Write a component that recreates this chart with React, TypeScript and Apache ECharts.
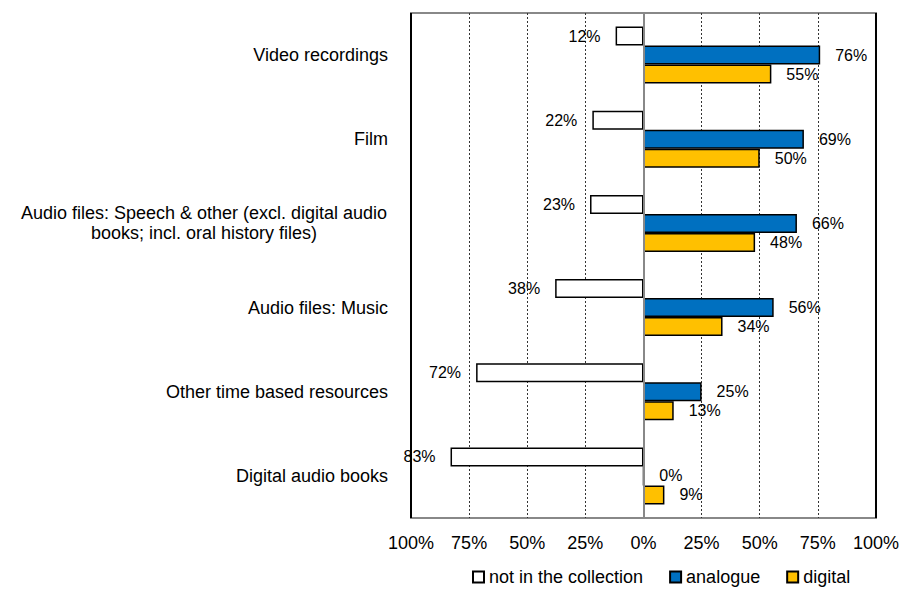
import React, { useEffect, useRef } from "react";
import * as echarts from "echarts";

const categories = [
  "Video recordings",
  "Film",
  "Audio files: Speech & other (excl. digital audio\nbooks; incl. oral history files)",
  "Audio files: Music",
  "Other time based resources",
  "Digital audio books",
];
const notInCollection = [12, 22, 23, 38, 72, 83];
const analogue = [76, 69, 66, 56, 25, 0];
const digital = [55, 50, 48, 34, 13, 9];
const seriesNames = ["not in the collection", "analogue", "digital"];
const xTicks = [-100, -75, -50, -25, 0, 25, 50, 75, 100];

export default function App() {
  const ref = useRef<HTMLDivElement>(null);
  useEffect(() => {
    document.body.style.margin = "0";
    if (!ref.current) return;
    const chart = echarts.init(ref.current, null, { renderer: "svg" });
    const font = "Liberation Sans, Arial, sans-serif";
    const barBorder = { borderColor: "#000", borderWidth: 1.5 };
    const labelBase = {
      show: true,
      fontFamily: font,
      fontSize: 16,
      color: "#000",
      distance: 15,
      formatter: (p: any) => Math.abs(p.value) + "%",
    };
    chart.setOption({
      animation: false,
      textStyle: { fontFamily: font },
      grid: { left: 411, right: 25, top: 13, bottom: 72, show: true, borderColor: "#888", borderWidth: 2 },
      legend: {
        left: 467,
        top: 563,
        itemWidth: 11,
        itemHeight: 11,
        itemGap: 26,
        icon: "rect",
        textStyle: { fontFamily: font, fontSize: 18, color: "#000" },
        data: seriesNames,
      },
      xAxis: {
        type: "value",
        min: xTicks[0],
        max: xTicks[xTicks.length - 1],
        interval: 25,
        axisLine: { show: false },
        axisTick: { show: false },
        axisLabel: {
          fontFamily: font,
          fontSize: 18,
          color: "#000",
          margin: 16,
          formatter: (v: number) => Math.abs(v) + "%",
        },
        splitLine: { show: true, lineStyle: { color: "#333", type: [2, 2], width: 1 } },
      },
      yAxis: {
        type: "category",
        data: categories,
        inverse: true,
        axisLine: { show: false },
        axisTick: { show: false },
        axisLabel: {
          fontFamily: font,
          fontSize: 18,
          color: "#000",
          margin: 23,
          lineHeight: 20,
          formatter: (v: string) => {
            if (v.indexOf("\n") >= 0) {
              return v
                .split("\n")
                .map((s) => "{c|" + s + "}")
                .join("\n");
            }
            return v;
          },
          rich: {
            c: { width: 368, align: "center", fontSize: 18, fontFamily: font, color: "#000", lineHeight: 20 },
          },
        },
      },
      series: [
        {
          name: seriesNames[0],
          type: "bar",
          data: notInCollection.map((v) => -v),
          barWidth: 19,
          barGap: "0%",
          itemStyle: { color: "#fff", ...barBorder },
          label: { ...labelBase, position: "left" },
          markLine: {
            silent: true,
            symbol: "none",
            label: { show: false },
            data: [
              { xAxis: -100, lineStyle: { color: "#000", width: 2, type: "solid" } },
              { xAxis: 100, lineStyle: { color: "#000", width: 2, type: "solid" } },
              { xAxis: 0, lineStyle: { color: "#888", width: 2, type: "solid" } },
            ],
          },
        },
        {
          name: seriesNames[1],
          type: "bar",
          data: analogue,
          barWidth: 19,
          barGap: "0%",
          itemStyle: { color: "#0070C0", ...barBorder },
          label: { ...labelBase, position: "right" },
        },
        {
          name: seriesNames[2],
          type: "bar",
          data: digital,
          barWidth: 19,
          barGap: "0%",
          itemStyle: { color: "#FFC000", ...barBorder },
          label: { ...labelBase, position: "right" },
        },
      ],
    });
    return () => chart.dispose();
  }, []);
  return <div ref={ref} style={{ width: 902, height: 590 }} />;
}
